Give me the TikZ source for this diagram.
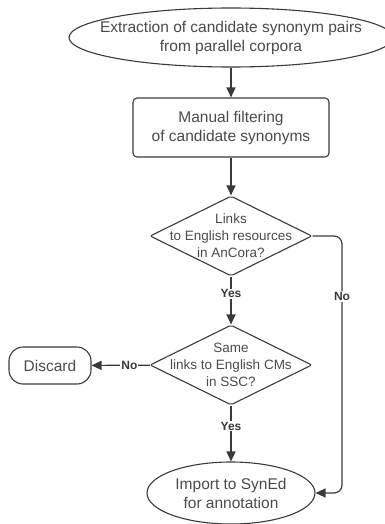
\documentclass[tikz,border=0pt]{standalone}
\usepackage{fontspec}
\setmainfont{Liberation Sans}
\usetikzlibrary{shapes.geometric,arrows.meta,calc}
\definecolor{ln}{HTML}{3A3A3A}
\definecolor{tx}{HTML}{4A4A4A}
\tikzset{
  shp/.style={draw=ln, line width=1.1pt, inner sep=0pt},
  ell/.style={shp, ellipse},
  box/.style={shp, rectangle, rounded corners=4pt},
  dia/.style={shp, diamond, rounded corners=2pt},
  bigtxt/.style={text=tx, font=\fontsize{15.5}{19}\selectfont, align=center},
  smalltxt/.style={text=tx, font=\fontsize{13.5}{17}\selectfont, align=center},
  lbl/.style={text=ln, font=\fontsize{12}{14}\selectfont\bfseries, fill=white, inner sep=1pt},
  arr/.style={draw=ln, line width=1.2pt, -{Triangle[length=10pt,width=9pt]}},
}
\begin{document}
\begin{tikzpicture}[x=1pt,y=-1pt]
\useasboundingbox (0,0) rectangle (384,524);
\node[ell, minimum width=324pt, minimum height=59pt] (e1) at (231,37.5) {};
\node[bigtxt] at (e1) {Extraction of candidate synonym pairs\\from parallel corpora};
\node[box, minimum width=196pt, minimum height=59pt] (m) at (231,127.5) {};
\node[bigtxt] at (m) {Manual filtering\\of candidate synonyms};
\node[dia, minimum width=162pt, minimum height=80pt] (d1) at (231,236) {};
\node[smalltxt] at (d1) {Links\\to English resources\\in AnCora?};
\node[dia, minimum width=162pt, minimum height=80pt] (d2) at (231,365) {};
\node[smalltxt] at (d2) {Same\\links to English CMs\\in SSC?};
\node[box, rounded corners=14pt, minimum width=82pt, minimum height=37pt] (dc) at (50,365.5) {};
\node[bigtxt] at (dc) {Discard};
\node[ell, minimum width=168pt, minimum height=62pt] (imp) at (231,493) {};
\node[bigtxt] at (imp) {Import to SynEd\\for annotation};
\coordinate (k) at (342,236);
\draw[arr] (e1) -- (m);
\draw[arr] (m) -- (d1);
\draw[arr] (d1) -- node[lbl, pos=0.36] {Yes} (d2);
\draw[arr] (d2) -- node[lbl, pos=0.37] {Yes} (imp);
\draw[arr] (d2) -- node[lbl, pos=0.35] {No} (dc);
\draw[arr, rounded corners=8pt] (d1.east) -- (k) |- node[lbl, pos=0.118] {No} (imp.east);
\end{tikzpicture}
\end{document}
